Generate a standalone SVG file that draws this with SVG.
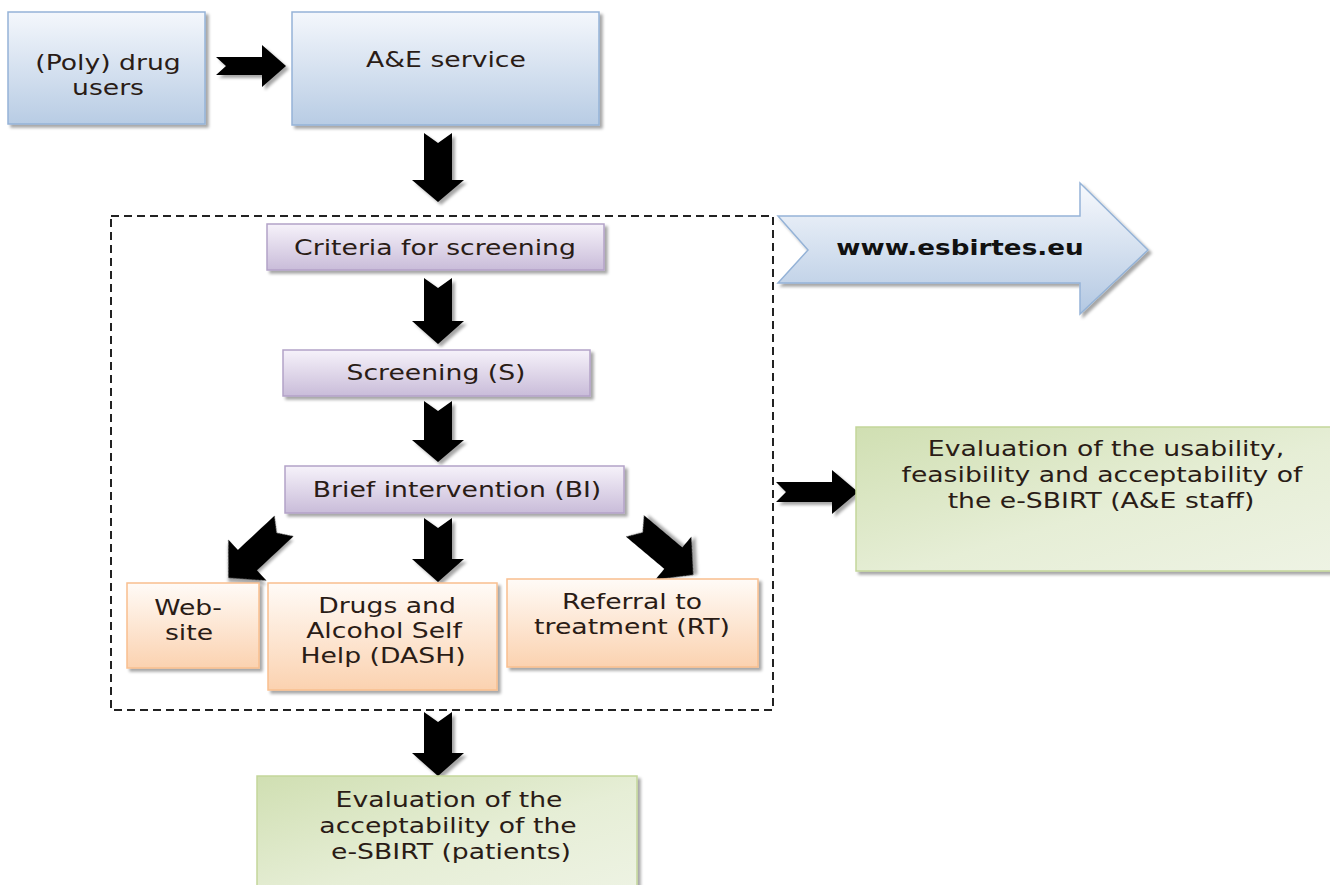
<svg xmlns="http://www.w3.org/2000/svg" width="1330" height="885" viewBox="0 0 1330 885">
<defs>
<linearGradient id="gBlue" x1="0" y1="0" x2="0" y2="1"><stop offset="0" stop-color="#f4f7fc"/><stop offset="1" stop-color="#b8cce4"/></linearGradient>
<linearGradient id="gPurple" x1="0" y1="0" x2="0" y2="1"><stop offset="0" stop-color="#f6f2fa"/><stop offset="1" stop-color="#c9bcd9"/></linearGradient>
<linearGradient id="gOrange" x1="0" y1="0" x2="0" y2="1"><stop offset="0" stop-color="#fffbf7"/><stop offset="1" stop-color="#fbd2b0"/></linearGradient>
<linearGradient id="gGreen" x1="0" y1="0" x2="1" y2="1"><stop offset="0" stop-color="#d0dfb2"/><stop offset="0.55" stop-color="#e6eed6"/><stop offset="1" stop-color="#eef3e4"/></linearGradient>
<linearGradient id="gArrow" x1="0" y1="0" x2="0" y2="1"><stop offset="0" stop-color="#f7f9fd"/><stop offset="1" stop-color="#b3c8e2"/></linearGradient>
<filter id="sh" x="-10%" y="-10%" width="125%" height="130%"><feDropShadow dx="3" dy="3" stdDeviation="1.5" flood-color="#000" flood-opacity="0.35"/></filter>
<path id="dArrow" d="M-14,0 L0,10 L14,0 L14,50 L28,50 L0,76 L-28,50 L-14,50 Z"/>
</defs>
<style>
.blue{fill:url(#gBlue);stroke:#95b3d7;stroke-width:1.5;filter:url(#sh)}
.purple{fill:url(#gPurple);stroke:#b3a2c7;stroke-width:1.5;filter:url(#sh)}
.orange{fill:url(#gOrange);stroke:#f9bf8f;stroke-width:1.5;filter:url(#sh)}
.green{fill:url(#gGreen);stroke:#c3d69b;stroke-width:1.5;filter:url(#sh)}
.arr{fill:#000;filter:url(#sh)}
.t{font-family:"DejaVu Sans",Verdana,sans-serif;font-size:21.5px;fill:#2a1c16;text-anchor:middle}
.b{font-family:"DejaVu Sans",Verdana,sans-serif;font-size:21.5px;font-weight:bold;fill:#111;text-anchor:middle}
.dash{fill:none;stroke:#222;stroke-width:2;stroke-dasharray:8 5}
</style>
<rect fill="#fff" width="1330" height="885"/>

<g id="scope"><rect class="dash" x="111" y="216" width="662" height="494"/></g>

<g id="connectors">
<path class="arr" d="M216,57 L262,57 L262,45 L286,66 L262,87 L262,75 L216,75 L226,66 Z"/>
<path class="arr" d="M424,133 L438,143 L452,133 L452,180 L464,180 L438,202 L412,180 L424,180 Z"/>
<path class="arr" d="M424,278 L438,288 L452,278 L452,321 L464,321 L438,344 L412,321 L424,321 Z"/>
<path class="arr" d="M424,401 L438,411 L452,401 L452,440 L464,440 L438,462 L412,440 L424,440 Z"/>
<path class="arr" d="M424,518 L438,528 L452,518 L452,559 L464,559 L438,582 L412,559 L424,559 Z"/>
<path class="arr" d="M424,712 L438,722 L452,712 L452,753 L464,753 L438,776 L412,753 L424,753 Z"/>
<path class="arr" d="M776,482 L832,482 L832,470 L858,492 L832,514 L832,502 L776,502 L786,492 Z"/>
<use href="#dArrow" class="arr" transform="translate(284,526) rotate(47)"/>
<use href="#dArrow" class="arr" transform="translate(635,526) rotate(-50)"/>
</g>

<g id="users"><rect class="blue" x="8" y="12" width="197" height="112"/>
<text class="t" transform="translate(108,70) scale(1.24,1)">(Poly) drug</text>
<text class="t" transform="translate(108,95) scale(1.24,1)">users</text></g>

<g id="ae"><rect class="blue" x="292" y="12" width="307" height="113"/>
<text class="t" transform="translate(446,67) scale(1.24,1)">A&amp;E service</text></g>

<g id="website-arrow"><path fill="url(#gArrow)" stroke="#95b3d7" stroke-width="1.5" filter="url(#sh)" d="M778,216 L1080,216 L1080,183 L1148,250 L1080,314 L1080,283 L778,283 L808,250 Z"/>
<text class="b" transform="translate(960,255) scale(1.22,1)">www.esbirtes.eu</text></g>

<g id="criteria"><rect class="purple" x="267" y="224" width="337" height="46"/>
<text class="t" transform="translate(435,255) scale(1.24,1)">Criteria for screening</text></g>

<g id="screening"><rect class="purple" x="283" y="350" width="307" height="46"/>
<text class="t" transform="translate(436,380) scale(1.24,1)">Screening (S)</text></g>

<g id="bi"><rect class="purple" x="285" y="466" width="339" height="47"/>
<text class="t" transform="translate(457,497) scale(1.24,1)">Brief intervention (BI)</text></g>

<g id="web"><rect class="orange" x="127" y="583" width="132" height="85"/>
<text class="t" transform="translate(188,615) scale(1.24,1)">Web-</text>
<text class="t" transform="translate(189,640) scale(1.24,1)">site</text></g>

<g id="dash"><rect class="orange" x="268" y="583" width="229" height="107"/>
<text class="t" transform="translate(387,613) scale(1.24,1)">Drugs and</text>
<text class="t" transform="translate(384,638) scale(1.24,1)">Alcohol Self</text>
<text class="t" transform="translate(383,663) scale(1.24,1)">Help (DASH)</text></g>

<g id="rt"><rect class="orange" x="507" y="579" width="251" height="88"/>
<text class="t" transform="translate(632,609) scale(1.24,1)">Referral to</text>
<text class="t" transform="translate(632,634) scale(1.24,1)">treatment (RT)</text></g>

<g id="evalstaff"><rect class="green" x="856" y="427" width="480" height="144"/>
<text class="t" transform="translate(1106,456) scale(1.24,1)">Evaluation of the usability,</text>
<text class="t" transform="translate(1102,482) scale(1.24,1)">feasibility and acceptability of</text>
<text class="t" transform="translate(1101,508) scale(1.24,1)">the e-SBIRT (A&amp;E staff)</text></g>

<g id="evalpatients"><rect class="green" x="257" y="776" width="380" height="120"/>
<text class="t" transform="translate(449,807) scale(1.24,1)">Evaluation of the</text>
<text class="t" transform="translate(448,833) scale(1.24,1)">acceptability of the</text>
<text class="t" transform="translate(451,859) scale(1.24,1)">e-SBIRT (patients)</text></g>
</svg>
